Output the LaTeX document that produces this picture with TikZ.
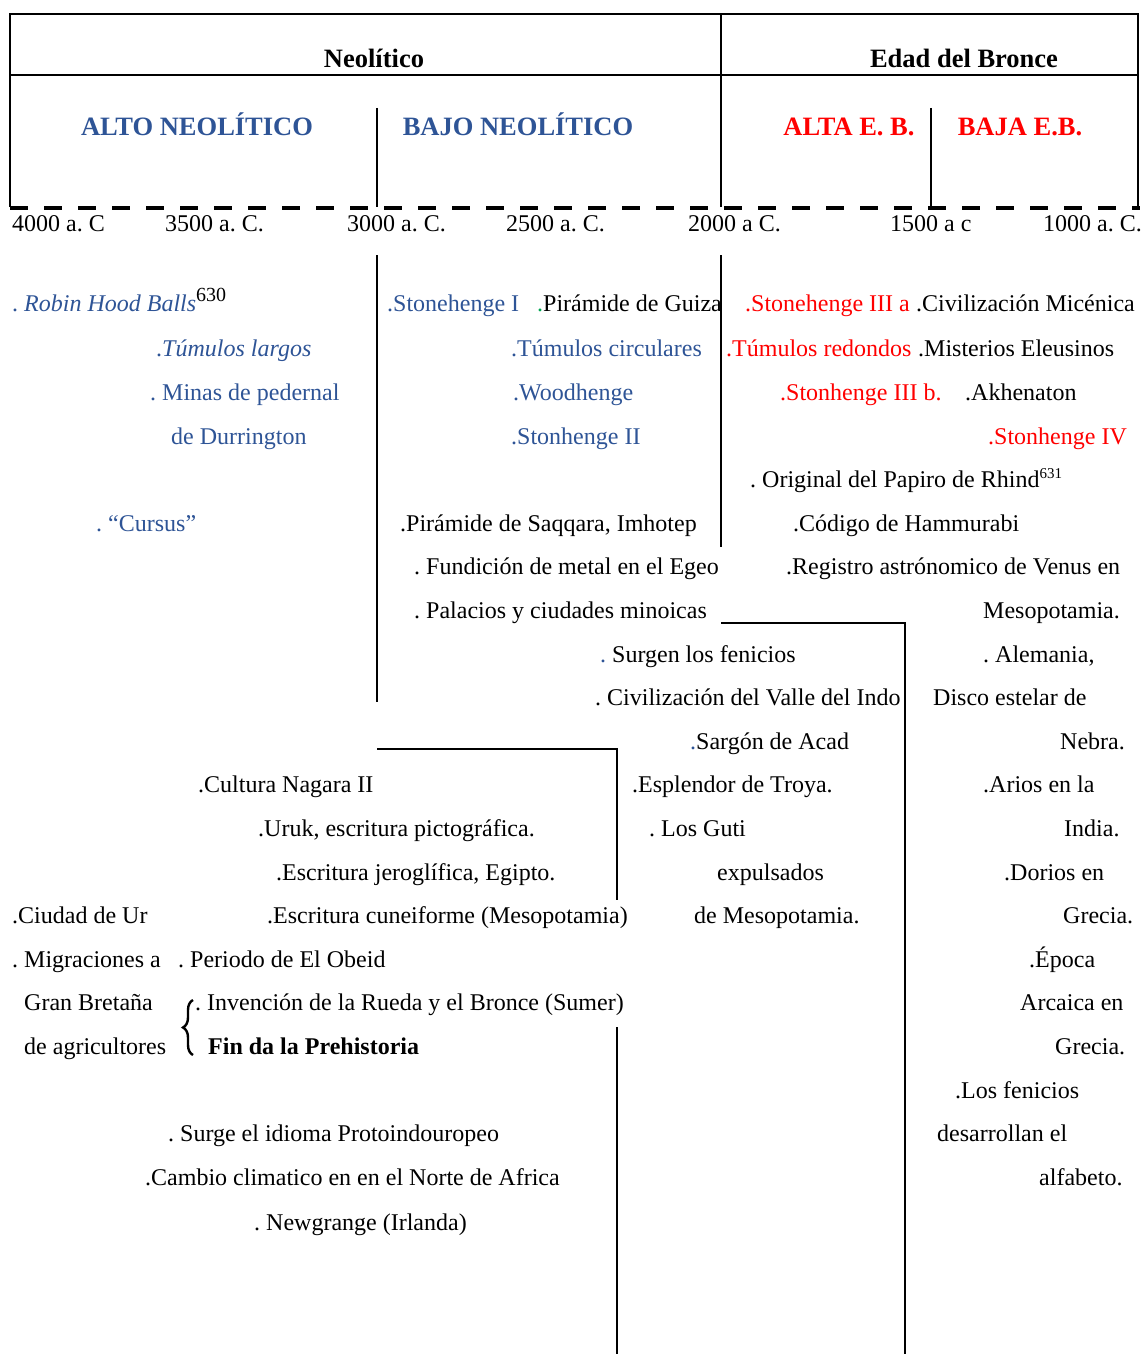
\documentclass[tikz,border=0pt]{standalone}
\usepackage{fontspec}
\setmainfont{Liberation Serif}
\usetikzlibrary{decorations.pathreplacing}
\definecolor{neoblue}{HTML}{2E5496}
\definecolor{dotgreen}{HTML}{00A651}
\frenchspacing

\begin{document}
\begin{tikzpicture}[x=1bp, y=-1bp,
  ev/.style={anchor=base west, inner sep=0pt, font=\fontsize{24bp}{28bp}\selectfont},
  neo/.style={ev, text=neoblue},
  bro/.style={ev, text=red},
  era/.style={anchor=base, inner sep=0pt, font=\fontsize{26.5bp}{30bp}\selectfont\bfseries},
  frame/.style={line width=2.6bp},
  rule/.style={line width=2.2bp},
  thin/.style={line width=1.4bp}
]
  \useasboundingbox (0,0) rectangle (1140,1354);

  % cabecera
  \draw[frame] (10,207) -- (10,14) -- (1138,14) -- (1138,207);
  \draw[frame] (721,14) -- (721,207);
  \draw[thin] (10,75) -- (1138,75);
  \draw[thin] (377,108) -- (377,207);
  \draw[thin] (931,108) -- (931,207);
  \draw[line width=4bp, dash pattern=on 18bp off 16bp] (10,208) -- (1140,208);

  \node[era] (neolitico) at (374,68) {Neolítico};
  \node[era] (bronce) at (964,68) {Edad del Bronce};
  \node[era, text=neoblue] (altoneo) at (197,136) {ALTO NEOLÍTICO};
  \node[era, text=neoblue] (bajoneo) at (518,136) {BAJO NEOLÍTICO};
  \node[era, text=red] (altaeb) at (849,136) {ALTA E. B.};
  \node[era, text=red] (bajaeb) at (1020,136) {BAJA E.B.};

  % fechas
  \node[ev] (f4000) at (12,232) {4000 a. C};
  \node[ev] (f3500) at (165,232) {3500 a. C.};
  \node[ev] (f3000) at (347,232) {3000 a. C.};
  \node[ev] (f2500) at (506,232) {2500 a. C.};
  \node[ev] (f2000) at (688,232) {2000 a C.};
  \node[ev] (f1500) at (890,232) {1500 a c};
  \node[ev] (f1000) at (1043,232) {1000 a. C.};

  % separadores
  \draw[rule] (377,255) -- (377,702);
  \draw[rule] (721,255) -- (721,547);
  \draw[rule] (721,623) -- (905,623) -- (905,1354);
  \draw[rule] (377,749) -- (617,749) -- (617,900);
  \draw[rule] (617,1027) -- (617,1354);

  % alto neolitico
  \node[neo] (robin) at (12,311) {. \textit{Robin Hood Balls}\raisebox{10bp}{\textcolor{black}{\fontsize{20bp}{20bp}\selectfont 630}}};
  \node[neo] (tlargos) at (156,356) {.\textit{Túmulos largos}};
  \node[neo] (minas) at (150,400) {. Minas de pedernal};
  \node[neo] (durr) at (171,444) {de Durrington};
  \node[neo] (cursus) at (96,531) {. “Cursus”};

  % bajo neolitico
  \node[neo] (ston1) at (387,311) {.Stonehenge I};
  \node[ev] (guiza) at (537,311) {\textcolor{dotgreen}{.}Pirámide de Guiza};
  \node[neo] (tcirc) at (511,356) {.Túmulos circulares};
  \node[neo] (woodh) at (513,400) {.Woodhenge};
  \node[neo] (ston2) at (511,444) {.Stonhenge II};
  \node[ev] (saqqara) at (400,531) {.Pirámide de Saqqara, Imhotep};
  \node[ev] (egeo) at (414,574) {. Fundición de metal en el Egeo};
  \node[ev] (minoic) at (414,618) {. Palacios y ciudades minoicas};
  \node[ev] (fenic) at (600,662) {\textcolor{neoblue}{.} Surgen los fenicios};
  \node[ev] (indo) at (595,705) {. Civilización del Valle del Indo};
  \node[ev] (sargon) at (690,749) {\textcolor{neoblue}{.}Sargón de Acad};
  \node[ev] (nagara) at (198,792) {.Cultura Nagara II};
  \node[ev] (uruk) at (258,836) {.Uruk, escritura pictográfica.};
  \node[ev] (jerog) at (276,880) {.Escritura jeroglífica, Egipto.};
  \node[ev] (ur) at (12,923) {.Ciudad de Ur};
  \node[ev] (cuneif) at (267,923) {.Escritura cuneiforme (Mesopotamia)};
  \node[ev] (migra1) at (12,967) {. Migraciones a};
  \node[ev] (migra2) at (24,1010) {Gran Bretaña};
  \node[ev] (migra3) at (24,1054) {de agricultores};
  \node[ev] (obeid) at (178,967) {. Periodo de El Obeid};
  \node[ev] (rueda) at (195,1010) {. Invención de la Rueda y el Bronce (Sumer)};
  \node[ev, font=\fontsize{24bp}{28bp}\selectfont\bfseries] (finpre) at (208,1054) {Fin da la Prehistoria};
  \draw[line width=2.4bp, decorate, decoration={brace, amplitude=10bp}] (193,1055) -- (193,1000);
  \node[ev] (proto) at (168,1141) {. Surge el idioma Protoindouropeo};
  \node[ev] (clima) at (145,1185) {.Cambio climatico en en el Norte de Africa};
  \node[ev] (newg) at (254,1230) {. Newgrange (Irlanda)};

  % edad del bronce
  \node[bro] (ston3a) at (745,311) {.Stonehenge III a};
  \node[ev] (micen) at (916,311) {.Civilización Micénica};
  \node[bro] (tredon) at (726,356) {.Túmulos redondos};
  \node[ev] (eleus) at (918,356) {.Misterios Eleusinos};
  \node[bro] (ston3b) at (780,400) {.Stonhenge III b.};
  \node[ev] (akhen) at (965,400) {.Akhenaton};
  \node[bro] (ston4) at (988,444) {.Stonhenge IV};
  \node[ev] (rhind) at (750,487) {. Original del Papiro de Rhind\raisebox{9bp}{\fontsize{15bp}{15bp}\selectfont 631}};
  \node[ev] (hammu) at (793,531) {.Código de Hammurabi};
  \node[ev] (venus1) at (786,574) {.Registro astrónomico de Venus en};
  \node[ev] (venus2) at (983,618) {Mesopotamia.};
  \node[ev] (troya) at (632,792) {.Esplendor de Troya.};
  \node[ev] (guti1) at (649,836) {. Los Guti};
  \node[ev] (guti2) at (717,880) {expulsados};
  \node[ev] (guti3) at (694,923) {de Mesopotamia.};
  \node[ev] (nebra1) at (983,662) {. Alemania,};
  \node[ev] (nebra2) at (933,705) {Disco estelar de};
  \node[ev] (nebra3) at (1060,749) {Nebra.};
  \node[ev] (arios1) at (983,792) {.Arios en la};
  \node[ev] (arios2) at (1064,836) {India.};
  \node[ev] (dorios1) at (1004,880) {.Dorios en};
  \node[ev] (dorios2) at (1063,923) {Grecia.};
  \node[ev] (epoca1) at (1029,967) {.Época};
  \node[ev] (epoca2) at (1020,1010) {Arcaica en};
  \node[ev] (epoca3) at (1055,1054) {Grecia.};
  \node[ev] (alfab1) at (955,1098) {.Los fenicios};
  \node[ev] (alfab2) at (937,1141) {desarrollan el};
  \node[ev] (alfab3) at (1039,1185) {alfabeto.};
\end{tikzpicture}
\end{document}
